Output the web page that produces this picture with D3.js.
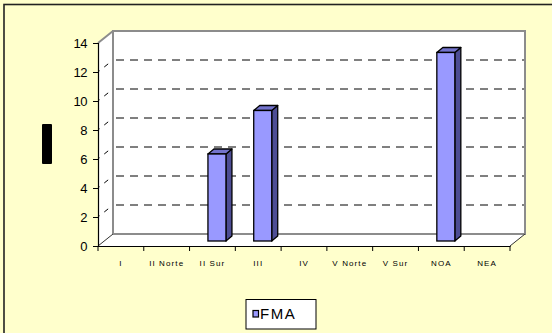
<!DOCTYPE html>
<html><head><meta charset="utf-8">
<script src="https://cdn.jsdelivr.net/npm/d3@7"></script>
<style>html,body{margin:0;padding:0;background:#FFFFCC;overflow:hidden}</style>
</head><body>
<svg id="c" width="552" height="333"></svg>
<script>
const categories = ["I","II Norte","II Sur","III","IV","V Norte","V Sur","NOA","NEA"];
const fmaValues = [0,0,6,9,0,0,0,13,0];
const yTicks = [0,2,4,6,8,10,12,14];
const seriesName = "FMA";

const svg = d3.select("#c");
svg.append("rect").attr("x",0).attr("y",0).attr("width",552).attr("height",333).attr("fill","#FFFFCC");
svg.append("rect").attr("x",4).attr("y",4.5).attr("width",560).attr("height",340)
  .attr("fill","none").attr("stroke","#222").attr("stroke-width",1.6);

const x0 = 98, x1 = 510;
const dX = 15, dY = 12;
const x = d3.scaleBand().domain(categories).range([x0,x1]).padding(0);
const y = d3.scaleLinear().domain([0,14]).range([246,43]);

// back wall
svg.append("rect").attr("x",x0+dX).attr("y",y(14)-dY).attr("width",x1-x0).attr("height",y(0)-y(14))
  .attr("fill","#fff");
// side wall
svg.append("path").attr("d",`M${x0},${y(0)}L${x0},${y(14)}L${x0+dX},${y(14)-dY}L${x0+dX},${y(0)-dY}Z`).attr("fill","#fff");
// floor
svg.append("path").attr("d",`M${x0},${y(0)}L${x1},${y(0)}L${x1+dX},${y(0)-dY}L${x0+dX},${y(0)-dY}Z`).attr("fill","#fff");

// gridlines on back wall
const grid = yTicks.filter(v=>v>0 && v<14);
svg.selectAll("line.g").data(grid).enter().append("line")
  .attr("x1",x0+dX).attr("x2",x1+dX).attr("y1",d=>y(d)-dY).attr("y2",d=>y(d)-dY)
  .attr("stroke","#000").attr("stroke-width",1).attr("stroke-dasharray","8,6").attr("stroke-dashoffset",-3);
svg.selectAll("line.gs").data(grid).enter().append("line")
  .attr("x1",x0).attr("x2",x0+dX).attr("y1",d=>y(d)).attr("y2",d=>y(d)-dY)
  .attr("stroke","#000").attr("stroke-width",1).attr("stroke-dasharray","5,6").attr("stroke-dashoffset",-8);

// wall edges
const gray = "#8c8c8c";
svg.append("path").attr("d",`M${x0+dX},${y(0)-dY}L${x0+dX},${y(14)-dY}L${x1+dX},${y(14)-dY}L${x1+dX},${y(0)-dY}L${x0+dX},${y(0)-dY}`)
  .attr("fill","none").attr("stroke",gray).attr("stroke-width",2);
svg.append("path").attr("d",`M${x0},${y(14)}L${x0+dX},${y(14)-dY}`).attr("fill","none").attr("stroke",gray).attr("stroke-width",2);
svg.append("path").attr("d",`M${x0},${y(0)}L${x0+dX},${y(0)-dY}M${x1},${y(0)}L${x1+dX},${y(0)-dY}`)
  .attr("fill","none").attr("stroke","#333").attr("stroke-width",1);

// bars
const bw = 18, bdx = 6, bdy = 5, offX = 4.5, offY = 5;
const bars = svg.selectAll("g.bar").data(categories.map((c,i)=>({c,v:fmaValues[i]})).filter(d=>d.v>0))
  .enter().append("g");
bars.each(function(d){
  const g = d3.select(this);
  const cx = x(d.c) + x.bandwidth()/2 + offX;
  const l = cx - bw/2, r = cx + bw/2;
  const b = y(0) - offY, t = y(d.v) - offY;
  g.append("path").attr("d",`M${r},${b}L${r},${t}L${r+bdx},${t-bdy}L${r+bdx},${b-bdy}Z`)
    .attr("fill","#4D4D94").attr("stroke","#000").attr("stroke-width",1.3).attr("stroke-linejoin","round");
  g.append("path").attr("d",`M${l},${t}L${l+bdx},${t-bdy}L${r+bdx},${t-bdy}L${r},${t}Z`)
    .attr("fill","#7373CC").attr("stroke","#000").attr("stroke-width",1.3).attr("stroke-linejoin","round");
  g.append("rect").attr("x",l).attr("y",t).attr("width",bw).attr("height",b-t)
    .attr("fill","#9999FF").attr("stroke","#000").attr("stroke-width",1.3);
});

// y axis
const yAxis = svg.append("g").attr("transform",`translate(${x0},0)`)
  .call(d3.axisLeft(y).tickValues(yTicks).tickSize(5).tickPadding(6).tickFormat(d3.format("d")));
yAxis.select(".domain").attr("stroke","#000").attr("stroke-width",1.2);
yAxis.selectAll(".tick line").attr("stroke","#000");
yAxis.selectAll("text").attr("font-family","Liberation Sans, Arial, sans-serif").attr("font-size",13)
  .attr("fill","#000").attr("letter-spacing","-0.5");

// x axis
const xAxis = svg.append("g").attr("transform",`translate(0,${y(0)})`)
  .call(d3.axisBottom(x).tickSize(0).tickPadding(14));
xAxis.select(".domain").attr("stroke","#000").attr("stroke-width",1.2);
xAxis.selectAll("text").attr("font-family","Liberation Sans, Arial, sans-serif").attr("font-size",8)
  .attr("fill","#000").attr("letter-spacing","1.1");
svg.selectAll("line.xt").data(d3.range(categories.length+1)).enter().append("line")
  .attr("x1",i=>x0+i*x.bandwidth()).attr("x2",i=>x0+i*x.bandwidth())
  .attr("y1",y(0)).attr("y2",y(0)+5).attr("stroke","#000").attr("stroke-width",1);

// black axis title block
svg.append("rect").attr("x",42).attr("y",124).attr("width",10).attr("height",40).attr("rx",1).attr("fill","#000");

// legend
svg.append("rect").attr("x",246).attr("y",299.5).attr("width",70).attr("height",29.5)
  .attr("fill","#fff").attr("stroke","#000").attr("stroke-width",1);
svg.append("rect").attr("x",253).attr("y",310.5).attr("width",5.5).attr("height",6.5)
  .attr("fill","#9999FF").attr("stroke","#000").attr("stroke-width",1.2);
svg.append("text").attr("x",260).attr("y",318.5).text(seriesName)
  .attr("font-family","Liberation Sans, Arial, sans-serif").attr("font-size",15).attr("letter-spacing","1.5").attr("fill","#000");
</script>
</body></html>
